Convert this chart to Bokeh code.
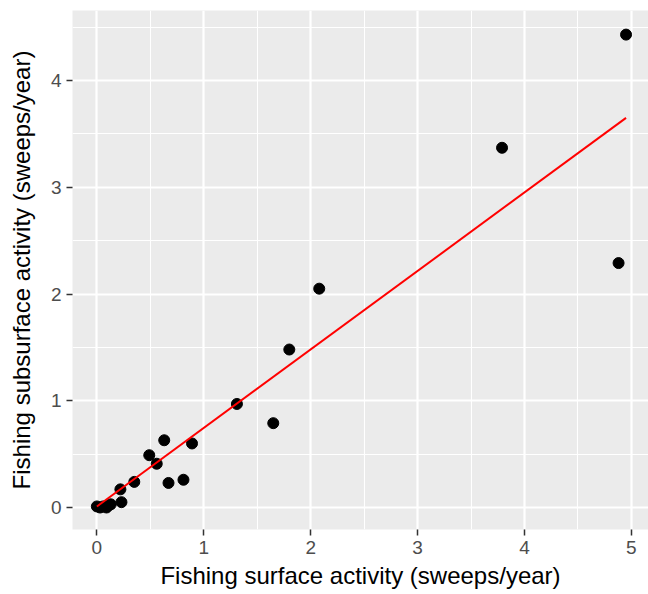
from bokeh.plotting import figure
from bokeh.models import FixedTicker, Range1d
from bokeh.embed import file_html
from bokeh.resources import INLINE

# Data
surface = [4.95, 3.79, 4.88, 2.08, 1.80, 1.31, 1.65, 0.63, 0.89, 0.49, 0.56,
           0.35, 0.22, 0.23, 0.67, 0.81, 0.00, 0.03, 0.06, 0.09, 0.11, 0.13]
subsurface = [4.43, 3.37, 2.29, 2.05, 1.48, 0.97, 0.79, 0.63, 0.60, 0.49, 0.41,
              0.24, 0.17, 0.05, 0.23, 0.26, 0.01, 0.00, 0.01, 0.00, 0.02, 0.03]

# Linear fit line (as drawn in the reference)
fit_x = [0.00, 4.95]
fit_y = [0.01, 3.65]

x_ticks = [0, 1, 2, 3, 4, 5]
x_minor = [0.5, 1.5, 2.5, 3.5, 4.5]
y_ticks = [0, 1, 2, 3, 4]
y_minor = [0.5, 1.5, 2.5, 3.5, 4.5]

x_title = "Fishing surface activity (sweeps/year)"
y_title = "Fishing subsurface activity (sweeps/year)"

FONT = "Liberation Sans"

p = figure(width=648, height=594, output_backend="svg", toolbar_location=None,
           x_range=Range1d(-0.228, 5.16), y_range=Range1d(-0.206, 4.656),
           min_border_left=72, min_border_top=10, min_border_right=0,
           min_border_bottom=65)

p.background_fill_color = "#EBEBEB"
p.border_fill_color = "white"
p.outline_line_color = None

p.xaxis.ticker = FixedTicker(ticks=x_ticks, minor_ticks=x_minor)
p.yaxis.ticker = FixedTicker(ticks=y_ticks, minor_ticks=y_minor)

for g in (p.xgrid, p.ygrid):
    g.grid_line_color = "white"
    g.grid_line_width = 2.2
    g.minor_grid_line_color = "white"
    g.minor_grid_line_width = 1.1

for ax in (p.xaxis, p.yaxis):
    ax.axis_line_color = None
    ax.major_tick_line_color = "#333333"
    ax.major_tick_line_width = 1.5
    ax.major_tick_out = 6
    ax.major_tick_in = 0
    ax.minor_tick_line_color = None
    ax.major_label_text_font = FONT
    ax.major_label_text_font_size = "19px"
    ax.major_label_text_color = "#4D4D4D"
    ax.axis_label_text_font = FONT
    ax.axis_label_text_font_size = "24px"
    ax.axis_label_text_font_style = "normal"
    ax.axis_label_text_color = "black"

p.xaxis.axis_label = x_title
p.yaxis.axis_label = y_title
p.xaxis.major_label_standoff = 5
p.yaxis.major_label_standoff = 5
p.xaxis.axis_label_standoff = 5
p.yaxis.axis_label_standoff = 13

p.scatter(surface, subsurface, size=11, color="black")
p.line(fit_x, fit_y, line_color="#FF0000", line_width=2)

open("out.html", "w").write(file_html(p, INLINE))
